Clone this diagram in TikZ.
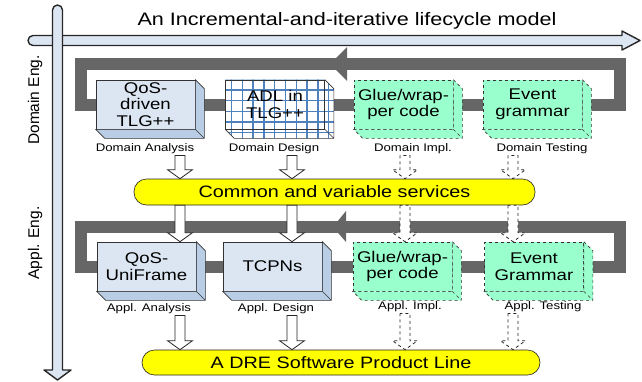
\documentclass[tikz,border=0pt]{standalone}
\usepackage{fontspec}
\setmainfont{Liberation Sans}[FakeStretch=1.2]
\newfontfamily\sidefont{Liberation Sans}
\usetikzlibrary{calc}
\usetikzlibrary{backgrounds}

\definecolor{axisblue}{HTML}{DCE6F2}
\definecolor{boxblue}{HTML}{DCE6F2}
\definecolor{sideblue}{HTML}{B9CDE5}
\definecolor{mint}{HTML}{99FFCC}
\definecolor{bandgray}{HTML}{666666}
\definecolor{gridblue}{HTML}{4F81BD}
\definecolor{pillyellow}{HTML}{FFFF00}

% hollow block arrow from (#2) down to (#3)
\newcommand{\hollowarrow}[3][]{%
    \draw [hollow, #1] let \p1 = (#2), \p2 = (#3) in
        (\x1-5pt,\y1) -- (\x1-5pt,\y2+9pt) -- (\x1-12.5pt,\y2+9pt) -- (\x1,\y2)
        -- (\x1+12.5pt,\y2+9pt) -- (\x1+5pt,\y2+9pt) -- (\x1+5pt,\y1) -- cycle;}

\begin{document}
\begin{tikzpicture}[x = 1pt, y = -1pt,
                    semithick,
                    axis/.style = {draw = black!85, line width = 1.4pt, fill = axisblue, line join = round},
                    band/.style = {draw = bandgray, line width = 12pt},
                    qos/.style = {draw = black!80, fill = boxblue, minimum width = 99pt, minimum height = 49pt,
                                  inner sep = 0pt, align = center, font = \fontsize{15.5}{16.7}\selectfont},
                    qosface/.style = {draw = black!80, fill = sideblue},
                    adl/.style = {qos, fill = none},
                    glue/.style = {qos, fill = mint, dashed},
                    glueface/.style = {draw = black!80, fill = mint, dashed},
                    phase/.style = {font = \fontsize{11}{12}\selectfont, inner sep = 1pt},
                    side/.style = {rotate = 90, font = \sidefont\fontsize{15.5}{17}\selectfont},
                    pill/.style = {draw = black!85, fill = pillyellow, rounded corners = 12.5pt, inner sep = 0pt,
                                   font = \fontsize{16.5}{18}\selectfont},
                    hollow/.style = {draw = black!85, fill = white, line width = 0.8pt},
                    gridline/.style = {draw = gridblue, line width = 1.3pt}]
    \useasboundingbox (0,0) rectangle (642,381);

    % Draw the two axes:
    \draw [axis] (33,35.5) -- (622,35.5) -- (622,31) -- (640,40.5) -- (622,50) -- (622,45.5) -- (33,45.5)
        arc [start angle = 90, end angle = 270, radius = 5] -- cycle;
    \draw [axis] (62.5,10) -- (62.5,370) -- (71,370) -- (57.5,380) -- (44,370) -- (52.5,370) -- (52.5,10)
        arc [start angle = 180, end angle = 360, radius = 5] -- cycle;
    \node [font = \fontsize{18}{20}\selectfont, anchor = base] (title) at (347,25) {An Incremental-and-iterative lifecycle model};
    \node [side] (domEng) at (35,100) {Domain Eng.};
    \node [side] (applEng) at (35,243) {Appl. Eng.};

    % Draw the phase boxes:
    \node [qos] (dA) at (145.5,104.5) {QoS-\\driven\\TLG++};
    \node [adl] (dD) at (275,104.5) {ADL in\\TLG++};
    \node [glue] (dI) at (403.5,104.5) {Glue/wrap-\\per code};
    \node [glue] (dT) at (532.5,104.5) {Event\\grammar};
    \node [qos] (aA) at (146.5,266.5) {QoS-\\UniFrame};
    \node [qos] (aD) at (272.5,266.5) {TCPNs};
    \node [glue] (aI) at (402.5,266.5) {Glue/wrap-\\per code};
    \node [glue] (aT) at (534,266.5) {Event\\Grammar};

    \foreach \b in {dA, aA, aD}
        \draw [qosface] (\b.north east) -- ++(9,9) -- ($(\b.south east)+(9,9)$) -- ($(\b.south west)+(9,9)$)
            -- (\b.south west) -- (\b.south east) -- cycle (\b.south east) -- ++(9,9);
    \foreach \b in {dI, dT, aI, aT}
        \draw [glueface] (\b.north east) -- ++(9,9) -- ($(\b.south east)+(9,9)$) -- ($(\b.south west)+(9,9)$)
            -- (\b.south west) -- (\b.south east) -- cycle (\b.south east) -- ++(9,9);
    \draw [black!80] (dD.north east) -- ++(9,9) -- ($(dD.south east)+(9,9)$) -- ($(dD.south west)+(9,9)$)
        -- (dD.south west) (dD.south east) -- ++(9,9);

    % Draw the phase names:
    \node [phase] (dAl) at (145,149) {Domain Analysis};
    \node [phase] (dDl) at (274,149) {Domain Design};
    \node [phase] (dIl) at (413,149) {Domain Impl.};
    \node [phase] (dTl) at (542,149) {Domain Testing};
    \node [phase] (aAl) at (149,309) {Appl. Analysis};
    \node [phase] (aDl) at (276,309) {Appl. Design};
    \node [phase] (aIl) at (410,307) {Appl. Impl.};
    \node [phase] (aTl) at (543,307) {Appl. Testing};

    \node [pill, minimum width = 401pt, minimum height = 26pt] (svc) at (334.5,192) {Common and variable services};
    \node [pill, minimum width = 398pt, minimum height = 25pt] (dre) at (341,362.5) {A DRE Software Product Line};

    % Draw the block arrows:
    \foreach \c/\x in {1/180, 2/292, 3/405, 4/513}
        \coordinate (col\c) at (\x,0);
    \foreach \c/\upper/\lower/\target/\dash in {1/dAl/aAl/aA/solid, 2/dDl/aDl/aD/solid, 3/dIl/aIl/aI/dashed, 4/dTl/aTl/aT/dashed} {
        \hollowarrow[\dash]{\upper.south -| col\c}{svc.north -| col\c}
        \hollowarrow[\dash]{svc.south -| col\c}{\target.north -| col\c}
        \hollowarrow[\dash]{\lower.south -| col\c}{dre.north -| col\c}
    }

    % Draw the iteration loops behind the boxes:
    \coordinate (dRight) at (619.5,64);
    \coordinate (dLeft) at (81,64);
    \coordinate (aRight) at (619.5,227);
    \coordinate (aLeft) at (81,227);
    \begin{scope}[on background layer]
        \draw [band] (dA.center) -- (dT.center);
        \draw [band] (dT.center) -| (dRight) -- (dLeft) |- (dA.center);
        \draw [band] (aA.center) -- (aT.center);
        \draw [band] (aT.center) -| (aRight) -- (aLeft) |- (aA.center);
        \fill [bandgray] (330,64) -- (347,47) -- (347,81) -- cycle;
        \fill [bandgray] (333,227) -- (346,211) -- (346,242) -- cycle;

        \fill [white] (dD.north west) -- (dD.north east) -- ++(9,9) -- ($(dD.south east)+(9,9)$)
            -- ($(dD.south west)+(9,9)$) -- (dD.south west) -- cycle;
        \begin{scope}
            \clip (dD.north west) -- (dD.north east) -- ++(9,9) -- ($(dD.south east)+(9,9)$)
                -- ($(dD.south west)+(9,9)$) -- (dD.south west) -- cycle;
            \foreach \i in {0, ..., 9}
                \draw [gridline] (231.5+10.8*\i,70) -- ++(0,80);
            \foreach \j in {-1, ..., 5}
                \draw [gridline] (215,90+10.7*\j) -- ++(130,0);
        \end{scope}
    \end{scope}
\end{tikzpicture}
\end{document}
